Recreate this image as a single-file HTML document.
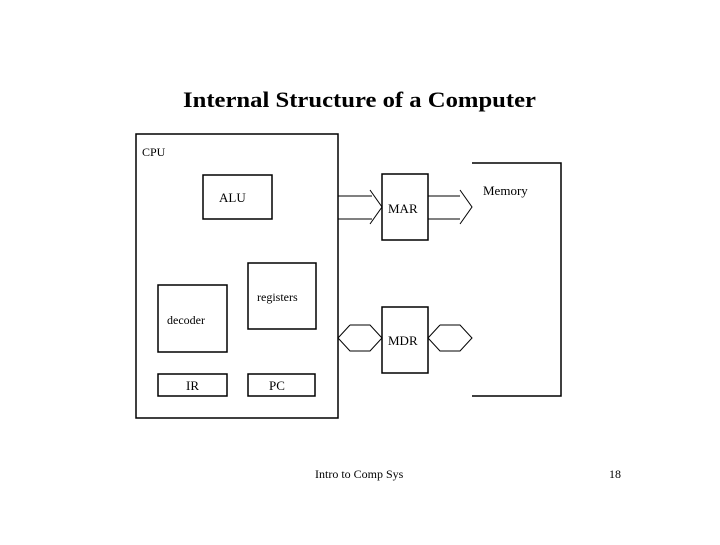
<!DOCTYPE html>
<html><head><style>
body{margin:0;width:720px;height:540px;background:#fff;overflow:hidden}
</style></head><body>
<svg width="720" height="540" xmlns="http://www.w3.org/2000/svg" font-family="Liberation Serif, serif">
<text x="183" y="107" font-size="22" font-weight="bold" textLength="353" lengthAdjust="spacingAndGlyphs">Internal Structure of a Computer</text>
<g fill="none" stroke="#000" stroke-width="1.5">
<rect x="136" y="134" width="202" height="284"/>
<rect x="203" y="175" width="69" height="44"/>
<rect x="248" y="263" width="68" height="66"/>
<rect x="158" y="285" width="69" height="67"/>
<rect x="158" y="374" width="69" height="22"/>
<rect x="248" y="374" width="67" height="22"/>
<rect x="382" y="174" width="46" height="66"/>
<rect x="382" y="307" width="46" height="66"/>
<polyline points="472,163 561,163 561,396 472,396"/>
</g>
<g fill="none" stroke="#000" stroke-width="1">
<line x1="338" y1="196" x2="372" y2="196"/><line x1="338" y1="219" x2="372" y2="219"/>
<polyline points="370,190 382,207 370,224"/>
<line x1="428" y1="196" x2="460" y2="196"/><line x1="428" y1="219" x2="460" y2="219"/>
<polyline points="460,190 472,207 460,224"/>
<polyline points="350,325 370,325 382,338 370,351 350,351 338,338 350,325"/>
<polyline points="440,325 460,325 472,338 460,351 440,351 428,338 440,325"/>
</g>
<g font-size="13">
<text x="142" y="156" font-size="12">CPU</text>
<text x="219" y="202">ALU</text>
<text x="257" y="301" font-size="12">registers</text>
<text x="167" y="324" font-size="12">decoder</text>
<text x="186" y="390">IR</text>
<text x="269" y="390">PC</text>
<text x="388" y="213">MAR</text>
<text x="388" y="345">MDR</text>
<text x="483" y="195">Memory</text>
<text x="315" y="478" font-size="12">Intro to Comp Sys</text>
<text x="609" y="478" font-size="12">18</text>
</g>
</svg>
</body></html>
